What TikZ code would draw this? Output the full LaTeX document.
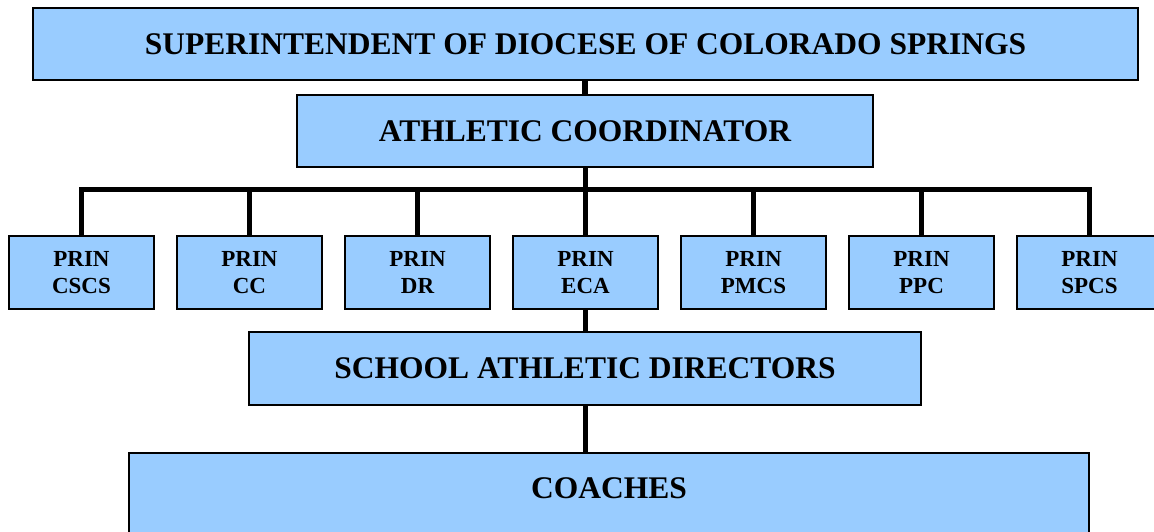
\documentclass[tikz,border=0pt]{standalone}
\usepackage{fontspec}
\setmainfont{Liberation Serif}
\definecolor{boxblue}{HTML}{99CCFF}
\begin{document}
\begin{tikzpicture}[x=1pt,y=-1pt,
  box/.style={draw=black,line width=1.5pt,fill=boxblue,inner sep=0pt,align=center,font=\bfseries\fontsize{31.5}{36}\selectfont},
  prin/.style={box,minimum width=145pt,minimum height=73pt,font=\bfseries\fontsize{23}{27}\selectfont},
  conn/.style={draw=black,line width=5pt},
  ]
\useasboundingbox[fill=white] (0,0) rectangle (1154,531);
\node[box,minimum width=1105pt,minimum height=72pt] (sup) at (585.5,44) {SUPERINTENDENT OF DIOCESE OF COLORADO SPRINGS};
\node[box,minimum width=576pt,minimum height=72pt] (ac) at (585,131) {ATHLETIC COORDINATOR};
\node[prin] (p1) at (81.5,272.5) {PRIN\\CSCS};
\node[prin] (p2) at (249.5,272.5) {PRIN\\CC};
\node[prin] (p3) at (417.5,272.5) {PRIN\\DR};
\node[prin] (p4) at (585.5,272.5) {PRIN\\ECA};
\node[prin] (p5) at (753.5,272.5) {PRIN\\PMCS};
\node[prin] (p6) at (921.5,272.5) {PRIN\\PPC};
\node[prin] (p7) at (1089.5,272.5) {PRIN\\SPCS};
\node[box,minimum width=672pt,minimum height=73pt] (sad) at (585,368.5) {SCHOOL ATHLETIC DIRECTORS};
\node[box,minimum width=960pt,anchor=north,text height=46pt,text depth=47pt] (coach) at (609,452) {COACHES};
\coordinate (bar) at (585,189);
\draw[conn,line width=6.5pt] (sup.south -| bar) -- (ac.north -| bar);
\draw[conn] (ac.south -| bar) -- (bar);
\draw[conn,line join=miter] (p1.north) |- (bar) -| (p7.north);
\foreach \i in {2,...,6} {\draw[conn,line width=4.5pt] (p\i.north) -- (p\i.north |- bar);}
\draw[conn] (p4.south) -- (sad.north -| p4.south);
\draw[conn] (sad.south -| p4.south) -- (coach.north -| p4.south);
\end{tikzpicture}
\end{document}
